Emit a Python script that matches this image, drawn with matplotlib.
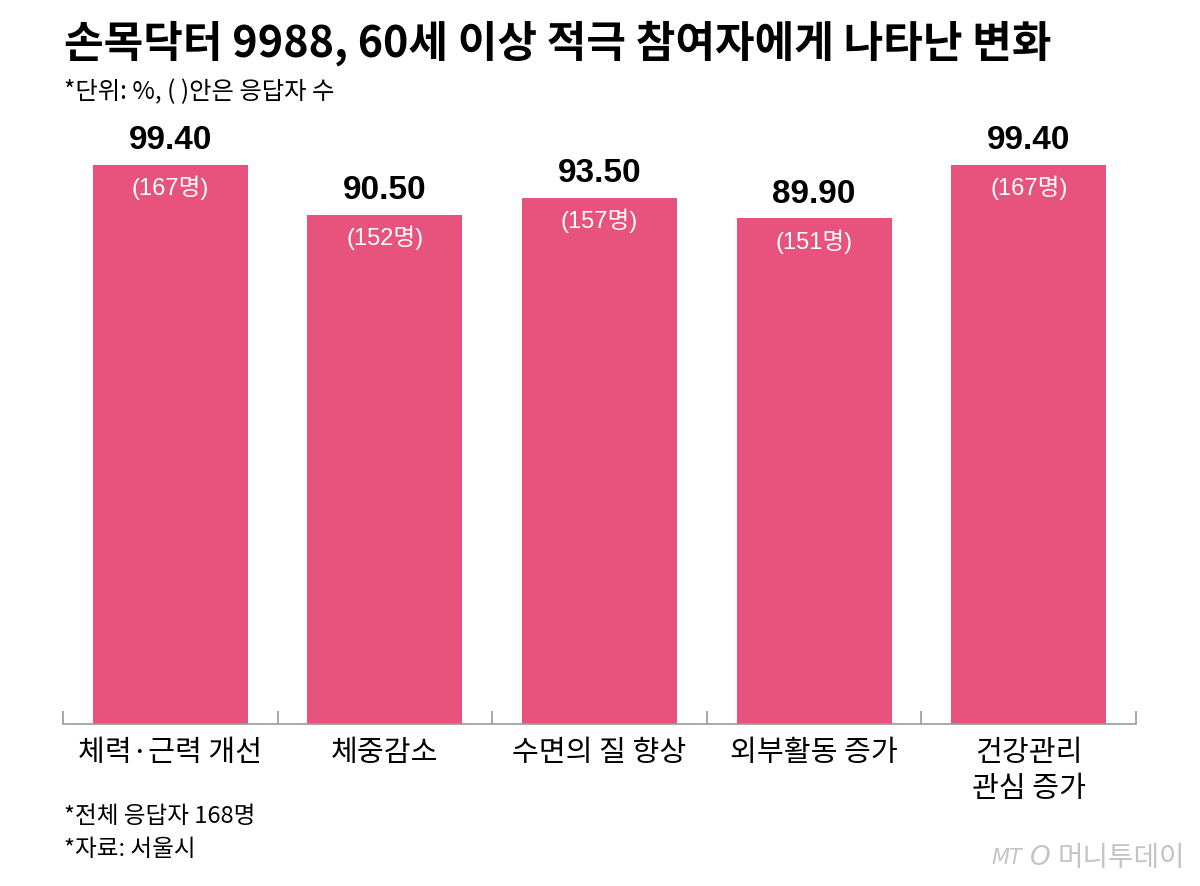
import matplotlib
matplotlib.use('Agg')
import matplotlib.pyplot as plt
import numpy as np

categories = ['체력·근력 개선', '체중감소', '수면의 질 향상', '외부활동 증가', '건강관리\n관심 증가']
values = [99.40, 90.50, 93.50, 89.90, 99.40]
counts = [167, 152, 157, 151, 167]

title = '손목닥터 9988, 60세 이상 적극 참여자에게 나타난 변화'
subtitle = '*단위: %, ( )안은 응답자 수'
notes = ['*전체 응답자 168명', '*자료: 서울시']

KR = ['Noto Sans CJK KR', 'DejaVu Sans']
NUM = ['Liberation Sans', 'Noto Sans CJK KR', 'DejaVu Sans']
bar_color = '#E8537D'

plt.rcParams['font.family'] = KR

fig = plt.figure(figsize=(12, 8.87), dpi=100)
ax = fig.add_axes([0.0525, 0.1826, 0.8942, 0.6977])

x = np.arange(len(categories))
bars = ax.bar(x, values, width=0.722, color=bar_color, zorder=2)

ax.set_xlim(-0.5, len(categories) - 0.5)
ax.set_ylim(0, 110)

for s in ['top', 'right', 'left']:
    ax.spines[s].set_visible(False)
ax.spines['bottom'].set_color('#9a9a9a')
ax.spines['bottom'].set_linewidth(1.2)
ax.set_yticks([])

# category labels under bars, separator ticks between them
ax.set_xticks(x)
ax.set_xticklabels(categories, fontsize=21, linespacing=1.3)
ax.tick_params(axis='x', which='major', length=0, pad=9)
ax.set_xticks(np.arange(-0.5, len(categories)), minor=True)
ax.tick_params(axis='x', which='minor', direction='in', length=9.5,
               width=1.2, color='#9a9a9a')

for b, v, c in zip(bars, values, counts):
    cx = b.get_x() + b.get_width() / 2
    ax.annotate(f'{v:.2f}', (cx, v), xytext=(0, 7), textcoords='offset points',
                ha='center', va='bottom', fontsize=24, fontweight='bold',
                family=NUM, color='black')
    ax.annotate(f'({c}명)', (cx, v), xytext=(0, -16), textcoords='offset points',
                ha='center', va='center', fontsize=17, family=NUM, color='white')

fig.text(0.053, 0.9515, title, fontsize=31, fontweight='bold', va='center', ha='left')
fig.text(0.053, 0.8963, subtitle, fontsize=17.5, va='center', ha='left')
fig.text(0.053, 0.0790, notes[0], fontsize=17, va='center', ha='left')
fig.text(0.053, 0.0420, notes[1], fontsize=17, va='center', ha='left')

# logo
fig.text(0.9875, 0.0327, '머니투데이', fontsize=20, color='#c4c4c4', va='center', ha='right')
fig.text(0.826, 0.0327, 'MT', fontsize=15, color='#c4c4c4', style='italic',
         family=['DejaVu Sans'], va='center', ha='left')
fig.text(0.858, 0.0327, 'O', fontsize=19, color='#c4c4c4', style='italic',
         family=['DejaVu Sans'], va='center', ha='left')

fig.savefig('out.png', dpi=100)
